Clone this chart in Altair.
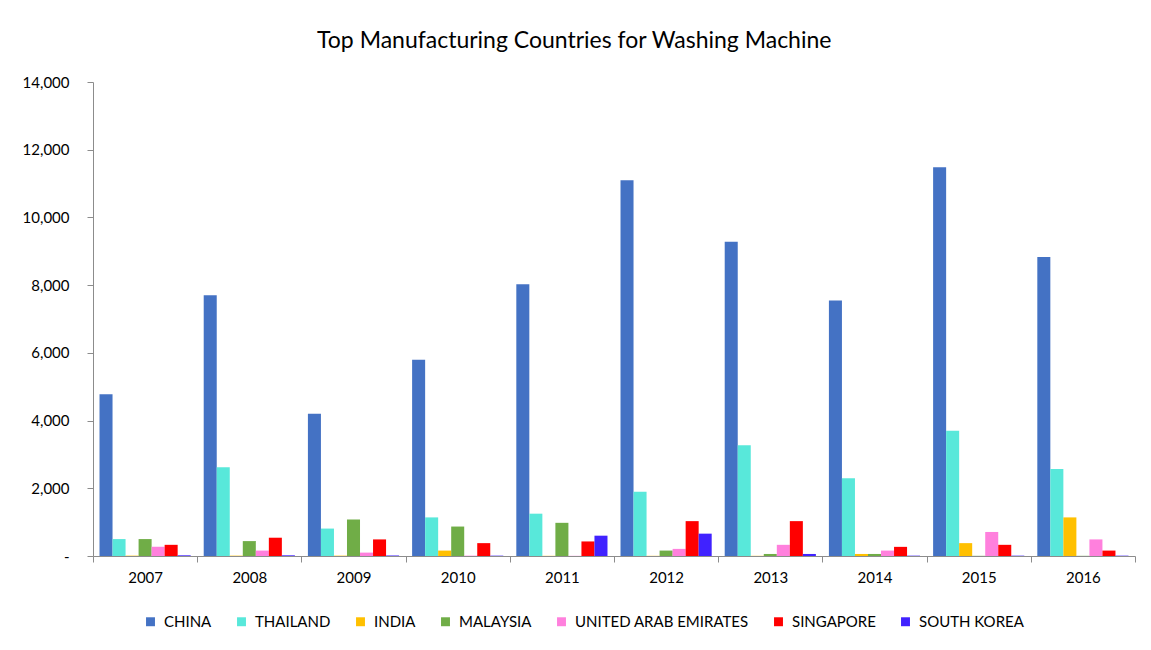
import altair as alt
import pandas as pd

years = ["2007", "2008", "2009", "2010", "2011", "2012", "2013", "2014", "2015", "2016"]
countries = ["CHINA", "THAILAND", "INDIA", "MALAYSIA", "UNITED ARAB EMIRATES", "SINGAPORE", "SOUTH KOREA"]
colors = ["#4472C4", "#58E8DA", "#FFC000", "#70AD47", "#FF80DD", "#FF0000", "#4022FF"]

china = [4780, 7700, 4200, 5800, 8030, 11100, 9280, 7550, 11480, 8830]
thailand = [500, 2620, 810, 1140, 1250, 1900, 3270, 2300, 3700, 2570]
india = [10, 10, 10, 160, 5, 5, 5, 60, 380, 1140]
malaysia = [500, 440, 1080, 870, 980, 160, 60, 60, 5, 5]
uae = [270, 160, 100, 10, 5, 210, 330, 160, 710, 490]
singapore = [330, 540, 490, 380, 430, 1030, 1030, 270, 330, 160]
south_korea = [20, 20, 15, 10, 600, 660, 60, 10, 10, 10]

series = [china, thailand, india, malaysia, uae, singapore, south_korea]
rows = []
for c, vals in zip(countries, series):
    for y, v in zip(years, vals):
        rows.append({"Year": y, "Country": c, "Value": v})
df = pd.DataFrame(rows)

font = "Lato"

chart = alt.Chart(df).mark_bar().encode(
    x=alt.X("Year:N", sort=years, title=None,
            scale=alt.Scale(paddingInner=0, paddingOuter=0),
            axis=alt.Axis(labelAngle=0, tickBand="extent", tickSize=6, labelPadding=8,
                          domainColor="#8c8c8c", tickColor="#8c8c8c",
                          labelFontSize=15, labelColor="#000000", labelFont=font)),
    xOffset=alt.XOffset("Country:N", sort=countries,
                        scale=alt.Scale(paddingInner=0, paddingOuter=0.5)),
    y=alt.Y("Value:Q", title=None,
            scale=alt.Scale(domain=[0, 14000], nice=False),
            axis=alt.Axis(values=list(range(0, 14001, 2000)), grid=False,
                          labelExpr="datum.value == 0 ? '-' : format(datum.value, ',')",
                          tickSize=6, labelPadding=18, domainColor="#8c8c8c", tickColor="#8c8c8c",
                          labelFontSize=15, labelColor="#000000", labelFont=font,
                          minExtent=80)),
    color=alt.Color("Country:N", sort=countries,
                    scale=alt.Scale(domain=countries, range=colors),
                    legend=alt.Legend(title=None, orient="none", direction="horizontal",
                                      columns=7, symbolType="square", symbolSize=80,
                                      symbolStrokeWidth=0, labelFontSize=15, labelFont=font,
                                      labelColor="#000000", columnPadding=22, labelOffset=6,
                                      labelLimit=300, legendX=50, legendY=532)),
).properties(
    width=1042,
    height=474,
    title=alt.Title("Top Manufacturing Countries for Washing Machine",
                    fontSize=23, font=font, fontWeight="normal", color="#000000",
                    anchor="middle", frame="bounds", offset=22),
    padding={"top": 22, "left": 5, "right": 5, "bottom": 5},
).configure_view(stroke=None)

chart.save("out.html", embed_options={"renderer": "svg", "actions": False})
